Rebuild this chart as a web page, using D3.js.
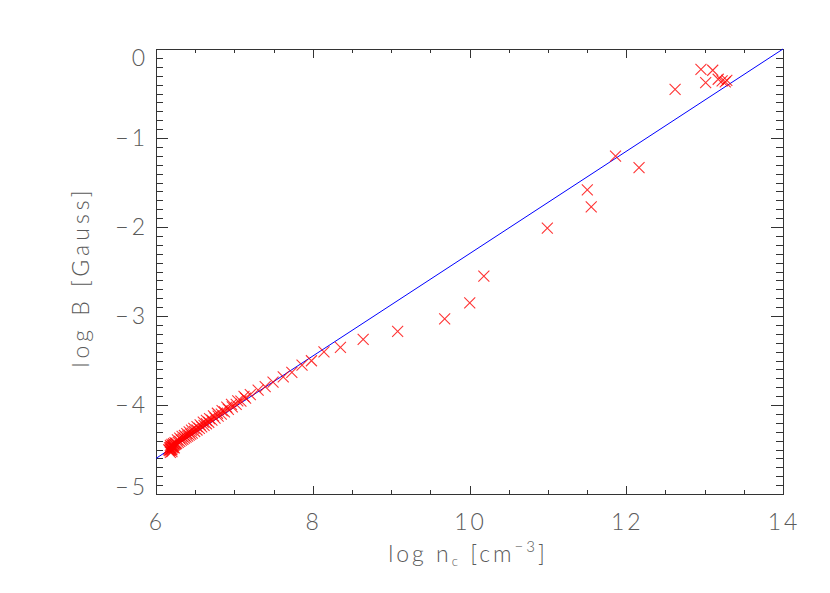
<!DOCTYPE html>
<html>
<head>
<meta charset="utf-8">
<script src="https://cdn.jsdelivr.net/npm/d3@7"></script>
<style>
  html, body { margin: 0; padding: 0; background: #fff; }
  svg { display: block; }
  .lbl { font-family: "Lato", "DejaVu Sans", sans-serif; font-weight: 300; fill: #5a5a5a; }
</style>
</head>
<body>
<svg id="chart" width="830" height="593"></svg>
<script>
// ---- data ----
const logN = [6.17,6.18,6.19,6.20,6.21,6.22,6.23,6.24,6.25,6.26,
  6.28,6.30,6.32,6.34,6.36,6.38,6.40,6.42,6.44,6.46,
  6.49,6.52,6.55,6.58,6.61,6.64,6.67,6.71,6.75,6.79,
  6.83,6.87,6.92,6.97,7.02,7.08,7.14,7.20,7.30,7.39,
  7.49,7.62,7.73,7.86,7.98,8.14,8.35,8.64,9.08,9.68,
  10.00,10.18,10.99,11.50,11.55,11.86,12.16,12.62,12.95,13.01,
  13.10,13.17,13.22,13.26,13.28,
  6.16,6.17,6.18,6.19,6.20,6.21,6.22,6.23,6.18,6.20,
  6.22,6.24,6.27,6.30,6.33,6.36,6.39,6.42,6.45,6.48,
  6.52,6.56,6.60,6.64,6.68,6.73,6.78,6.84,6.90,6.96,
  7.04,7.12,6.18,6.20];
const logB = [-4.480,-4.474,-4.468,-4.463,-4.457,-4.451,-4.445,-4.440,-4.434,-4.428,
  -4.416,-4.405,-4.393,-4.382,-4.370,-4.359,-4.347,-4.335,-4.324,-4.312,
  -4.295,-4.278,-4.260,-4.243,-4.226,-4.208,-4.191,-4.168,-4.145,-4.122,
  -4.099,-4.075,-4.047,-4.018,-3.989,-3.954,-3.919,-3.880,-3.830,-3.790,
  -3.740,-3.680,-3.630,-3.550,-3.500,-3.400,-3.350,-3.260,-3.170,-3.030,
  -2.850,-2.550,-2.010,-1.580,-1.770,-1.200,-1.330,-0.450,-0.225,-0.375,
  -0.236,-0.337,-0.356,-0.367,-0.350,
  -4.50,-4.51,-4.50,-4.49,-4.50,-4.48,-4.47,-4.48,-4.45,-4.44,
  -4.43,-4.42,-4.39,-4.37,-4.35,-4.34,-4.32,-4.30,-4.28,-4.26,
  -4.24,-4.22,-4.19,-4.17,-4.15,-4.12,-4.09,-4.06,-4.02,-3.99,
  -3.95,-3.90,-4.53,-4.52];
const fitN = [6, 14];
const fitB = [-4.6, 0];
const xTickVals = [6, 8, 10, 12, 14];
const xTickLabels = ["6", "8", "10", "12", "14"];
const yTickVals = [0, -1, -2, -3, -4, -5];
const yTickLabels = ["0", "\u22121", "\u22122", "\u22123", "\u22124", "\u22125"];
const xMinor = d3.range(6, 14.001, 0.5);
const yMinor = d3.range(-5, 0.001, 0.1);

// ---- layout ----
const L = 156, R = 783, T = 49, B = 494;
const svg = d3.select("#chart");
const x = d3.scaleLinear().domain([6, 14]).range([L, R]);
const y = d3.scaleLinear().domain([-5, 0]).range([B, T]);

const axisColor = "#333";
function styleAxis(g) {
  g.select(".domain").remove();
  g.selectAll("line").attr("stroke", axisColor).attr("shape-rendering", "crispEdges");
  g.selectAll("text").remove();
}
// bottom
svg.append("g").attr("transform", `translate(0,${B})`)
  .call(d3.axisBottom(x).tickValues(xMinor).tickSize(-4)).call(styleAxis);
svg.append("g").attr("transform", `translate(0,${B})`)
  .call(d3.axisBottom(x).tickValues(xTickVals).tickSize(-8)).call(styleAxis);
// top
svg.append("g").attr("transform", `translate(0,${T})`)
  .call(d3.axisTop(x).tickValues(xMinor).tickSize(-4)).call(styleAxis);
svg.append("g").attr("transform", `translate(0,${T})`)
  .call(d3.axisTop(x).tickValues(xTickVals).tickSize(-9)).call(styleAxis);
// left
svg.append("g").attr("transform", `translate(${L},0)`)
  .call(d3.axisLeft(y).tickValues(yMinor).tickSize(-7)).call(styleAxis);
svg.append("g").attr("transform", `translate(${L},0)`)
  .call(d3.axisLeft(y).tickValues(yTickVals).tickSize(-12)).call(styleAxis);
// right
svg.append("g").attr("transform", `translate(${R},0)`)
  .call(d3.axisRight(y).tickValues(yMinor).tickSize(-7)).call(styleAxis);
svg.append("g").attr("transform", `translate(${R},0)`)
  .call(d3.axisRight(y).tickValues(yTickVals).tickSize(-12)).call(styleAxis);

// frame
svg.append("rect").attr("x", L + 0.5).attr("y", T + 0.5)
  .attr("width", R - L).attr("height", B - T)
  .attr("fill", "none").attr("stroke", axisColor).attr("shape-rendering", "crispEdges");

// tick labels
svg.selectAll(".xl").data(xTickVals).join("text")
  .attr("class", "lbl").attr("x", d => x(d) + 1).attr("y", 530)
  .attr("text-anchor", "middle").attr("font-size", 23).attr("letter-spacing", 3)
  .text((d, i) => xTickLabels[i]);
svg.selectAll(".yl").data(yTickVals).join("text")
  .attr("class", "lbl").attr("x", 148)
  .attr("y", d => Math.min(Math.max(y(d), 58), 487) + 8)
  .attr("text-anchor", "end").attr("font-size", 23).attr("letter-spacing", 3)
  .text((d, i) => yTickLabels[i]);

// axis titles
const xt = svg.append("text").attr("class", "lbl")
  .attr("x", 468).attr("y", 562).attr("text-anchor", "middle")
  .attr("font-size", 23).attr("letter-spacing", 3);
xt.append("tspan").text("log n");
xt.append("tspan").attr("font-size", 13).attr("dy", 4).text("c");
xt.append("tspan").attr("dy", -4).text(" [cm");
xt.append("tspan").attr("font-size", 15).attr("dy", -10).text("\u22123");
xt.append("tspan").attr("dy", 10).text("]");

svg.append("text").attr("class", "lbl")
  .attr("transform", "translate(89,277) rotate(-90)")
  .attr("text-anchor", "middle").attr("font-size", 23).attr("letter-spacing", 4)
  .text("log B [Gauss]");

// fit line
svg.append("line")
  .attr("x1", x(fitN[0])).attr("y1", y(fitB[0]))
  .attr("x2", x(fitN[1])).attr("y2", y(fitB[1]))
  .attr("stroke", "#0000ff").attr("stroke-width", 1);

// markers
const h = 5.5;
const pts = logN.map((n, i) => [n, logB[i]]);
svg.append("g").selectAll("path").data(pts).join("path")
  .attr("d", d => {
    const cx = x(d[0]) + 0.25, cy = y(d[1]) + 0.25;
    return `M${cx - h},${cy - h}L${cx + h},${cy + h}M${cx - h},${cy + h}L${cx + h},${cy - h}`;
  })
  .attr("fill", "none").attr("stroke", "#ff0000").attr("stroke-width", 1.1)
  .attr("stroke-opacity", 0.8);
</script>
</body>
</html>
